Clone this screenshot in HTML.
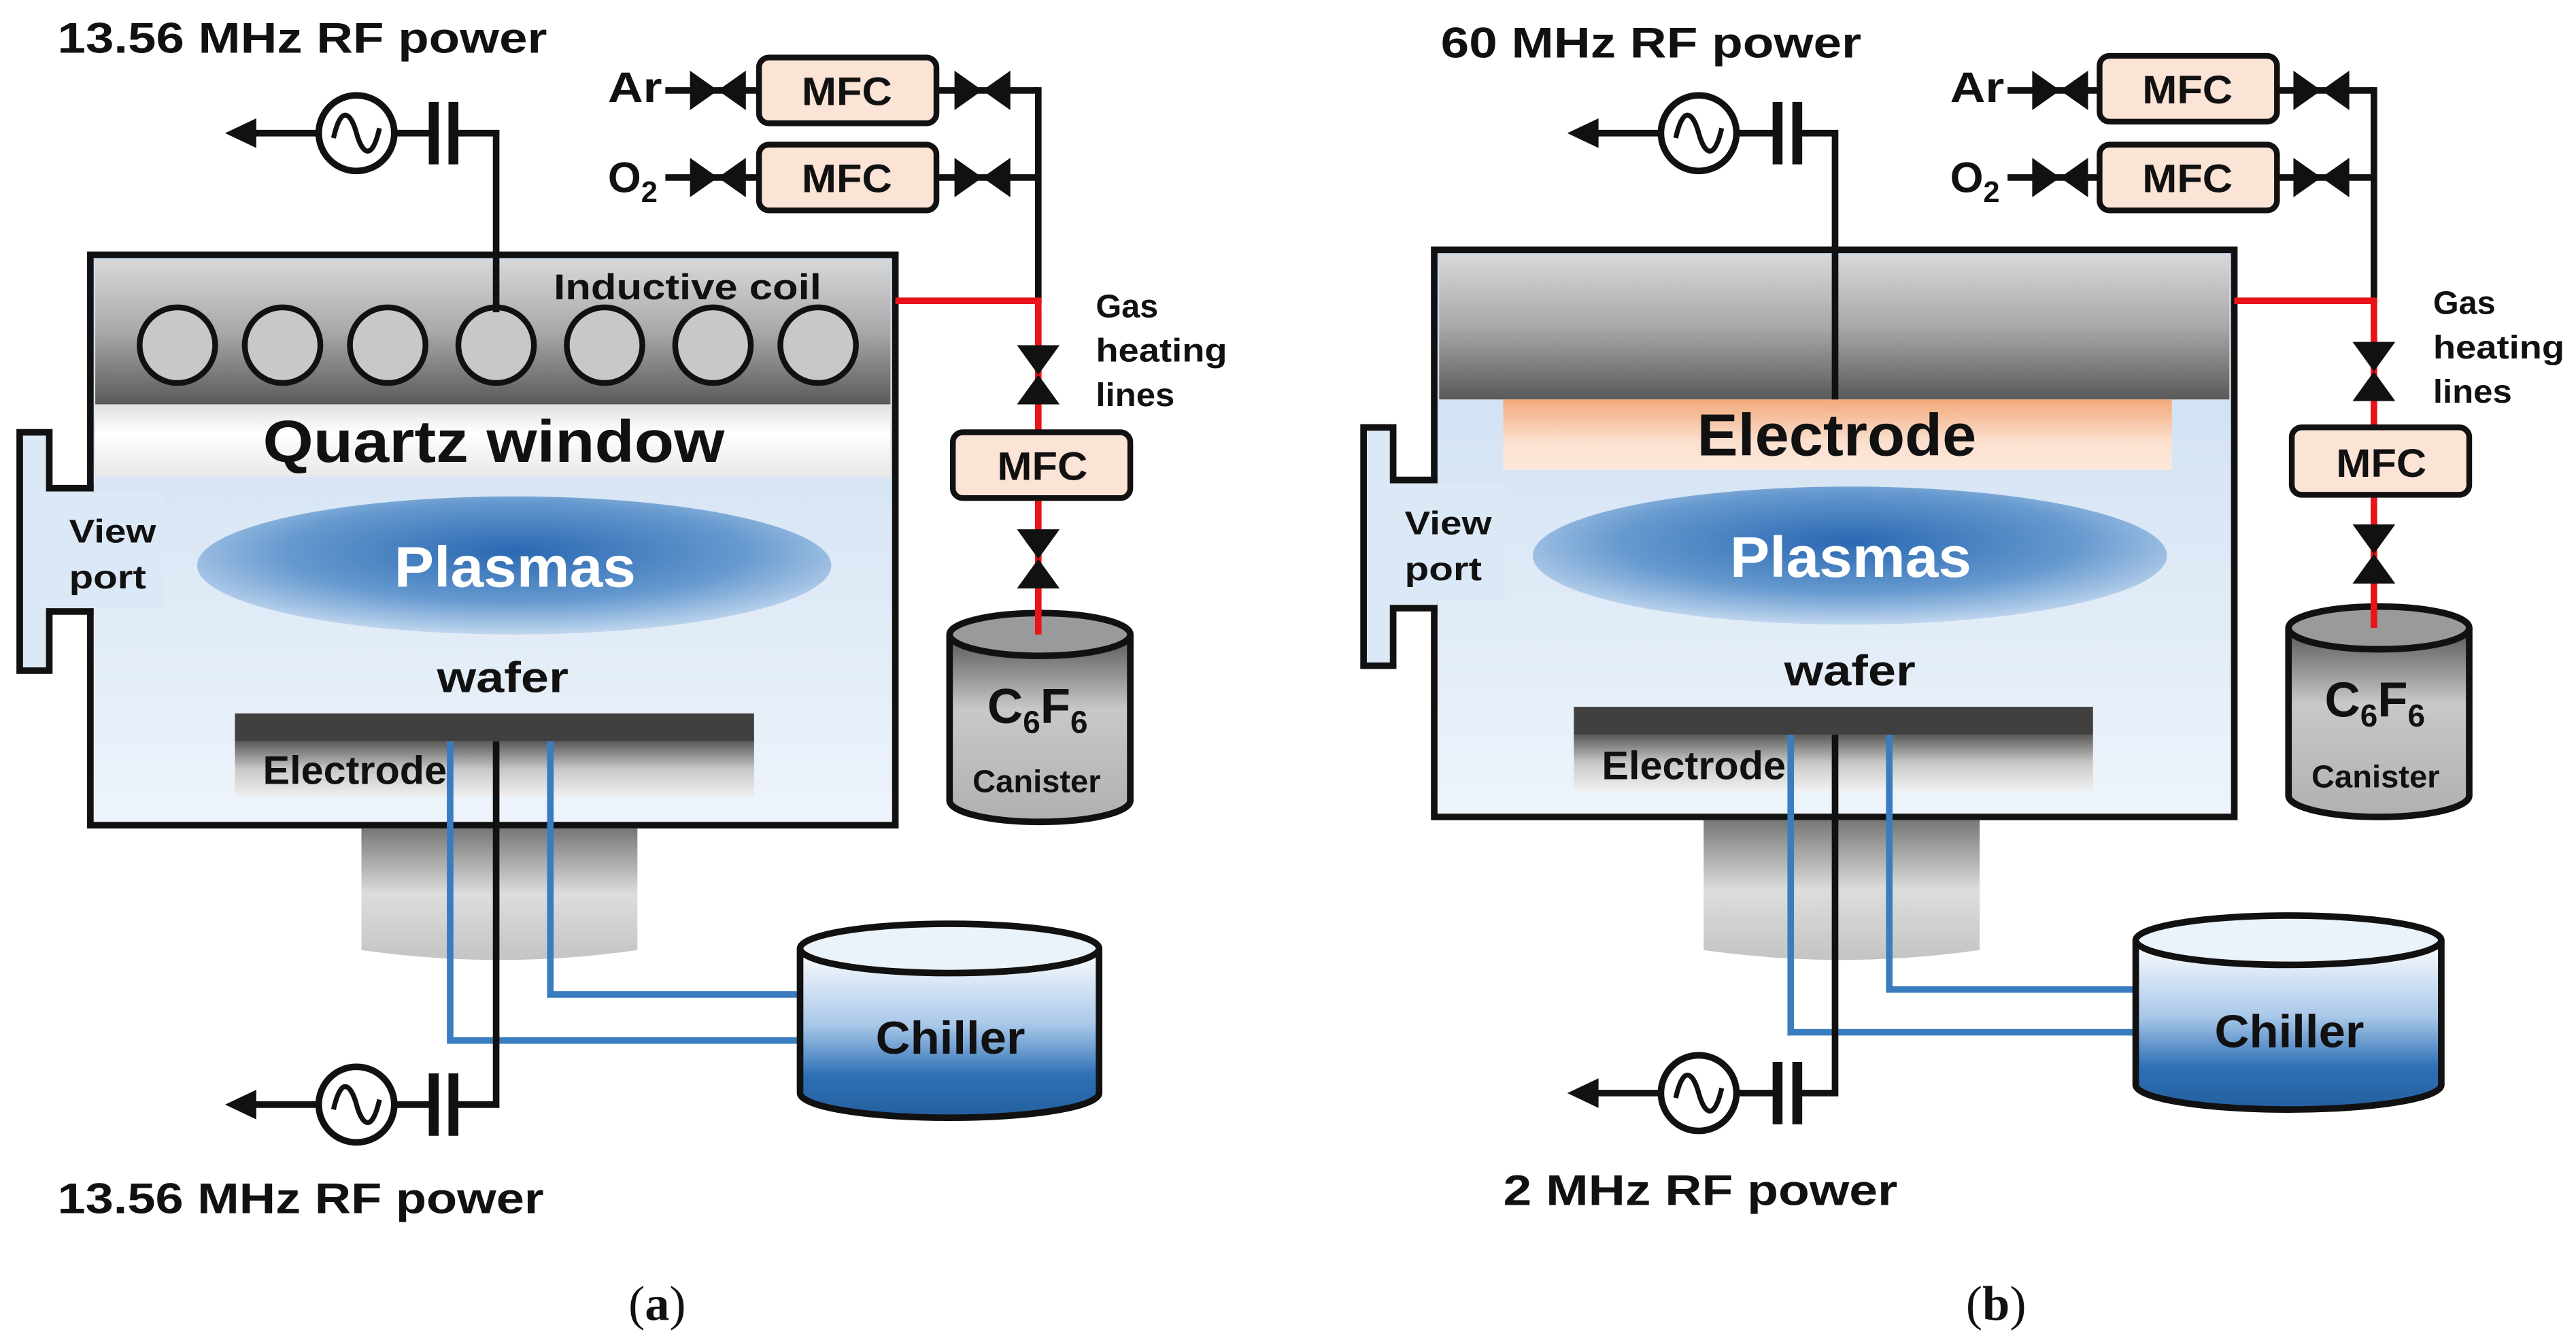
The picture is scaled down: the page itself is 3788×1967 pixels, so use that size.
<!DOCTYPE html>
<html><head><meta charset="utf-8"><style>
html,body{margin:0;padding:0;background:#fff;}
svg{display:block;}
text{font-family:"Liberation Sans",sans-serif;font-weight:bold;fill:#111;}
</style></head><body>
<svg width="3788" height="1967" viewBox="0 0 1568 814" preserveAspectRatio="none" xmlns="http://www.w3.org/2000/svg">
<defs>
<linearGradient id="topg" x1="0" y1="0" x2="0" y2="1"><stop offset="0" stop-color="#d8d8d8"/><stop offset="0.5" stop-color="#a8a8a8"/><stop offset="1" stop-color="#5a5a5a"/></linearGradient>
<linearGradient id="quartz" x1="0" y1="0" x2="0" y2="1"><stop offset="0" stop-color="#e0e0e0"/><stop offset="0.4" stop-color="#ffffff"/><stop offset="1" stop-color="#e8e8e8"/></linearGradient>
<linearGradient id="chamb" x1="0" y1="0" x2="0" y2="1"><stop offset="0" stop-color="#c9dcf0"/><stop offset="1" stop-color="#eef4fb"/></linearGradient>
<radialGradient id="plasma" cx="0.5" cy="0.4" r="0.6"><stop offset="0" stop-color="#2a68b2"/><stop offset="0.6" stop-color="#6599cf"/><stop offset="1" stop-color="#c0d6ee"/></radialGradient>
<linearGradient id="elec" x1="0" y1="0" x2="0" y2="1"><stop offset="0" stop-color="#5a5a5a"/><stop offset="0.5" stop-color="#c8c8c8"/><stop offset="1" stop-color="#f0f0f0"/></linearGradient>
<linearGradient id="ped" x1="0" y1="0" x2="0" y2="1"><stop offset="0" stop-color="#777"/><stop offset="0.5" stop-color="#ddd"/><stop offset="1" stop-color="#c4c4c4"/></linearGradient>
<linearGradient id="chill" x1="0" y1="0" x2="0" y2="1"><stop offset="0" stop-color="#ffffff"/><stop offset="0.45" stop-color="#a9c8e8"/><stop offset="0.75" stop-color="#2e70b6"/><stop offset="1" stop-color="#245f9e"/></linearGradient>
<linearGradient id="can" x1="0" y1="0" x2="0" y2="1"><stop offset="0" stop-color="#555"/><stop offset="0.4" stop-color="#c8c8c8"/><stop offset="1" stop-color="#b0b0b0"/></linearGradient>
<linearGradient id="orng" x1="0" y1="0" x2="0" y2="1"><stop offset="0" stop-color="#f2a97a"/><stop offset="0.6" stop-color="#fbe0cf"/><stop offset="1" stop-color="#fce8db"/></linearGradient>
</defs>

<!-- ============ PANEL A ============ -->
<text x="35" y="32" font-size="26" textLength="298" lengthAdjust="spacingAndGlyphs">13.56 MHz RF power</text>
<rect x="55" y="155" width="490" height="347" fill="url(#chamb)"/>
<rect x="58" y="158" width="484" height="88" fill="url(#topg)"/>
<rect x="58" y="246" width="484" height="44" fill="url(#quartz)"/>
<rect x="55" y="155" width="490" height="347" fill="none" stroke="#111" stroke-width="4"/>
<g fill="#c8c8c8" stroke="#111" stroke-width="3.5">
<circle cx="108" cy="210" r="23"/><circle cx="172" cy="210" r="23"/><circle cx="236" cy="210" r="23"/><circle cx="302" cy="210" r="23"/><circle cx="368" cy="210" r="23"/><circle cx="434" cy="210" r="23"/><circle cx="498" cy="210" r="23"/>
</g>
<text x="337" y="182" font-size="22" textLength="163" lengthAdjust="spacingAndGlyphs">Inductive coil</text>
<text x="160" y="281" font-size="36" textLength="281" lengthAdjust="spacingAndGlyphs">Quartz window</text>
<rect x="30" y="300" width="70" height="70" fill="#dbe8f5"/>
<path d="M57,297 H30 V263 H12 V408 H30 V372 H57" fill="#dbe8f5" stroke="#111" stroke-width="4"/>
<text x="42" y="330" font-size="20" textLength="53" lengthAdjust="spacingAndGlyphs">View</text>
<text x="42" y="358" font-size="20" textLength="47" lengthAdjust="spacingAndGlyphs">port</text>
<ellipse cx="313" cy="344" rx="193" ry="42" fill="url(#plasma)"/>
<text x="240" y="357" font-size="35" textLength="147" lengthAdjust="spacingAndGlyphs" style="fill:#fff">Plasmas</text>
<text x="266" y="421" font-size="26" textLength="80" lengthAdjust="spacingAndGlyphs">wafer</text>
<rect x="143" y="434" width="316" height="17" fill="#404040"/>
<rect x="143" y="451" width="316" height="34" fill="url(#elec)"/>
<text x="160" y="477" font-size="24" textLength="112" lengthAdjust="spacingAndGlyphs">Electrode</text>
<path d="M220,504 H388 V578 Q304,590 220,578 Z" fill="url(#ped)"/>
<polyline points="302,190 302,81 275,81" fill="none" stroke="#111" stroke-width="4"/>
<line x1="264" y1="62" x2="264" y2="100" stroke="#111" stroke-width="6"/>
<line x1="276" y1="62" x2="276" y2="100" stroke="#111" stroke-width="6"/>
<line x1="241" y1="81" x2="264" y2="81" stroke="#111" stroke-width="4"/>
<circle cx="217" cy="81" r="23" fill="#fff" stroke="#111" stroke-width="4"/>
<path d="M203,84 C208,62 214,70 217,81 C220,92 226,100 231,78" fill="none" stroke="#111" stroke-width="3"/>
<line x1="152" y1="81" x2="194" y2="81" stroke="#111" stroke-width="4"/>
<polygon points="137,81 156,72 156,90" fill="#111"/>
<polyline points="274,451 274,633 488,633" fill="none" stroke="#3a7cc0" stroke-width="4"/>
<polyline points="335,451 335,605 488,605" fill="none" stroke="#3a7cc0" stroke-width="4"/>
<polyline points="302,451 302,672 276,672" fill="none" stroke="#111" stroke-width="4"/>
<line x1="264" y1="653" x2="264" y2="691" stroke="#111" stroke-width="6"/>
<line x1="276" y1="653" x2="276" y2="691" stroke="#111" stroke-width="6"/>
<line x1="241" y1="672" x2="264" y2="672" stroke="#111" stroke-width="4"/>
<circle cx="217" cy="672" r="23" fill="#fff" stroke="#111" stroke-width="4"/>
<path d="M203,675 C208,653 214,661 217,672 C220,683 226,691 231,669" fill="none" stroke="#111" stroke-width="3"/>
<line x1="152" y1="672" x2="194" y2="672" stroke="#111" stroke-width="4"/>
<polygon points="137,672 156,663 156,681" fill="#111"/>
<path d="M487,577 V665 A91,15 0 0 0 669,665 V577" fill="url(#chill)" stroke="#111" stroke-width="4"/>
<ellipse cx="578" cy="577" rx="91" ry="15" fill="#eaf2fa" stroke="#111" stroke-width="4"/>
<text x="533" y="641" font-size="28" textLength="91" lengthAdjust="spacingAndGlyphs">Chiller</text>
<text x="35" y="738" font-size="26" textLength="296" lengthAdjust="spacingAndGlyphs">13.56 MHz RF power</text>
<text x="370" y="62" font-size="26" textLength="33" lengthAdjust="spacingAndGlyphs">Ar</text>
<text x="370" y="117" font-size="26">O<tspan font-size="18" dy="6">2</tspan></text>
<g stroke="#111" stroke-width="4" fill="none">
<line x1="405" y1="55" x2="462" y2="55"/><line x1="405" y1="108" x2="462" y2="108"/>
<line x1="570" y1="55" x2="632" y2="55"/><line x1="570" y1="108" x2="632" y2="108"/>
<line x1="632" y1="53" x2="632" y2="185"/>
</g>
<g fill="#111">
<polygon points="420,43 437,55 420,67"/><polygon points="454,43 437,55 454,67"/>
<polygon points="420,96 437,108 420,120"/><polygon points="454,96 437,108 454,120"/>
<polygon points="581,43 598,55 581,67"/><polygon points="615,43 598,55 615,67"/>
<polygon points="581,96 598,108 581,120"/><polygon points="615,96 598,108 615,120"/>
</g>
<g fill="#fbe3d6" stroke="#111" stroke-width="3.5">
<rect x="462" y="35" width="108" height="40" rx="6"/><rect x="462" y="88" width="108" height="40" rx="6"/>
</g>
<text x="488" y="64" font-size="24" textLength="55" lengthAdjust="spacingAndGlyphs">MFC</text>
<text x="488" y="117" font-size="24" textLength="55" lengthAdjust="spacingAndGlyphs">MFC</text>
<polyline points="545,183 632,183 632,382" fill="none" stroke="#e8141a" stroke-width="4"/>
<g fill="#111">
<polygon points="619,210 645,210 632,228"/><polygon points="619,246 645,246 632,228"/>
<polygon points="619,322 645,322 632,340"/><polygon points="619,358 645,358 632,340"/>
</g>
<rect x="580" y="263" width="108" height="40" rx="6" fill="#fbe3d6" stroke="#111" stroke-width="3.5"/>
<text x="607" y="292" font-size="24" textLength="55" lengthAdjust="spacingAndGlyphs">MFC</text>
<text x="667" y="193" font-size="20" textLength="38" lengthAdjust="spacingAndGlyphs">Gas</text>
<text x="667" y="220" font-size="20" textLength="80" lengthAdjust="spacingAndGlyphs">heating</text>
<text x="667" y="247" font-size="20" textLength="48" lengthAdjust="spacingAndGlyphs">lines</text>
<path d="M578,386 V487 A55,13 0 0 0 688,487 V386" fill="url(#can)" stroke="#111" stroke-width="4"/>
<ellipse cx="633" cy="386" rx="55" ry="13" fill="#9a9a9a" stroke="#111" stroke-width="4"/>
<line x1="632" y1="370" x2="632" y2="386" stroke="#e8141a" stroke-width="4"/>
<text x="601" y="440" font-size="30">C<tspan font-size="19" dy="6">6</tspan><tspan dy="-6">F</tspan><tspan font-size="19" dy="6">6</tspan></text>
<text x="592" y="482" font-size="19" textLength="78" lengthAdjust="spacingAndGlyphs">Canister</text>
<text x="400" y="803" font-size="30" text-anchor="middle" style="font-family:'Liberation Serif',serif;font-weight:normal">(<tspan font-weight="bold">a</tspan>)</text>

<!-- ============ PANEL B ============ -->
<text x="877" y="35" font-size="26" textLength="256" lengthAdjust="spacingAndGlyphs">60 MHz RF power</text>
<rect x="873" y="152" width="487" height="345" fill="url(#chamb)"/>
<rect x="876" y="155" width="481" height="88" fill="url(#topg)"/>
<rect x="915" y="243" width="407" height="43" fill="url(#orng)"/>
<rect x="873" y="152" width="487" height="345" fill="none" stroke="#111" stroke-width="4"/>
<text x="1033" y="277" font-size="36" textLength="170" lengthAdjust="spacingAndGlyphs">Electrode</text>
<rect x="848" y="295" width="68" height="70" fill="#dbe8f5"/>
<path d="M875,292 H848 V260 H830 V405 H848 V370 H875" fill="#dbe8f5" stroke="#111" stroke-width="4"/>
<text x="855" y="325" font-size="20" textLength="53" lengthAdjust="spacingAndGlyphs">View</text>
<text x="855" y="353" font-size="20" textLength="47" lengthAdjust="spacingAndGlyphs">port</text>
<ellipse cx="1126" cy="338" rx="193" ry="42" fill="url(#plasma)"/>
<text x="1053" y="351" font-size="35" textLength="147" lengthAdjust="spacingAndGlyphs" style="fill:#fff">Plasmas</text>
<text x="1086" y="417" font-size="26" textLength="80" lengthAdjust="spacingAndGlyphs">wafer</text>
<rect x="958" y="430" width="316" height="17" fill="#404040"/>
<rect x="958" y="447" width="316" height="34" fill="url(#elec)"/>
<text x="975" y="474" font-size="24" textLength="112" lengthAdjust="spacingAndGlyphs">Electrode</text>
<path d="M1037,499 H1205 V578 Q1121,590 1037,578 Z" fill="url(#ped)"/>
<polyline points="1117,243 1117,81 1093,81" fill="none" stroke="#111" stroke-width="4"/>
<line x1="1082" y1="62" x2="1082" y2="100" stroke="#111" stroke-width="6"/>
<line x1="1094" y1="62" x2="1094" y2="100" stroke="#111" stroke-width="6"/>
<line x1="1058" y1="81" x2="1082" y2="81" stroke="#111" stroke-width="4"/>
<circle cx="1034" cy="81" r="23" fill="#fff" stroke="#111" stroke-width="4"/>
<path d="M1020,84 C1025,62 1031,70 1034,81 C1037,92 1043,100 1048,78" fill="none" stroke="#111" stroke-width="3"/>
<line x1="969" y1="81" x2="1011" y2="81" stroke="#111" stroke-width="4"/>
<polygon points="954,81 973,72 973,90" fill="#111"/>
<polyline points="1090,447 1090,628 1301,628" fill="none" stroke="#3a7cc0" stroke-width="4"/>
<polyline points="1150,447 1150,602 1301,602" fill="none" stroke="#3a7cc0" stroke-width="4"/>
<polyline points="1117,447 1117,665 1094,665" fill="none" stroke="#111" stroke-width="4"/>
<line x1="1082" y1="646" x2="1082" y2="684" stroke="#111" stroke-width="6"/>
<line x1="1094" y1="646" x2="1094" y2="684" stroke="#111" stroke-width="6"/>
<line x1="1058" y1="665" x2="1082" y2="665" stroke="#111" stroke-width="4"/>
<circle cx="1034" cy="665" r="23" fill="#fff" stroke="#111" stroke-width="4"/>
<path d="M1020,668 C1025,646 1031,654 1034,665 C1037,676 1043,684 1048,662" fill="none" stroke="#111" stroke-width="3"/>
<line x1="969" y1="665" x2="1011" y2="665" stroke="#111" stroke-width="4"/>
<polygon points="954,665 973,656 973,674" fill="#111"/>
<path d="M1300,572 V660 A93,15 0 0 0 1486,660 V572" fill="url(#chill)" stroke="#111" stroke-width="4"/>
<ellipse cx="1393" cy="572" rx="93" ry="15" fill="#eaf2fa" stroke="#111" stroke-width="4"/>
<text x="1348" y="637" font-size="28" textLength="91" lengthAdjust="spacingAndGlyphs">Chiller</text>
<text x="915" y="733" font-size="26" textLength="240" lengthAdjust="spacingAndGlyphs">2 MHz RF power</text>
<text x="1187" y="62" font-size="26" textLength="33" lengthAdjust="spacingAndGlyphs">Ar</text>
<text x="1187" y="117" font-size="26">O<tspan font-size="18" dy="6">2</tspan></text>
<g stroke="#111" stroke-width="4" fill="none">
<line x1="1222" y1="55" x2="1279" y2="55"/><line x1="1222" y1="108" x2="1279" y2="108"/>
<line x1="1386" y1="55" x2="1445" y2="55"/><line x1="1386" y1="108" x2="1445" y2="108"/>
<line x1="1445" y1="53" x2="1445" y2="185"/>
</g>
<g fill="#111">
<polygon points="1237,43 1254,55 1237,67"/><polygon points="1271,43 1254,55 1271,67"/>
<polygon points="1237,96 1254,108 1237,120"/><polygon points="1271,96 1254,108 1271,120"/>
<polygon points="1396,43 1413,55 1396,67"/><polygon points="1430,43 1413,55 1430,67"/>
<polygon points="1396,96 1413,108 1396,120"/><polygon points="1430,96 1413,108 1430,120"/>
</g>
<g fill="#fbe3d6" stroke="#111" stroke-width="3.5">
<rect x="1278" y="34" width="108" height="40" rx="6"/><rect x="1278" y="88" width="108" height="40" rx="6"/>
</g>
<text x="1304" y="63" font-size="24" textLength="55" lengthAdjust="spacingAndGlyphs">MFC</text>
<text x="1304" y="117" font-size="24" textLength="55" lengthAdjust="spacingAndGlyphs">MFC</text>
<polyline points="1360,183 1445,183 1445,378" fill="none" stroke="#e8141a" stroke-width="4"/>
<g fill="#111">
<polygon points="1432,208 1458,208 1445,226"/><polygon points="1432,244 1458,244 1445,226"/>
<polygon points="1432,319 1458,319 1445,337"/><polygon points="1432,355 1458,355 1445,337"/>
</g>
<rect x="1395" y="260" width="108" height="41" rx="6" fill="#fbe3d6" stroke="#111" stroke-width="3.5"/>
<text x="1422" y="290" font-size="24" textLength="55" lengthAdjust="spacingAndGlyphs">MFC</text>
<text x="1481" y="191" font-size="20" textLength="38" lengthAdjust="spacingAndGlyphs">Gas</text>
<text x="1481" y="218" font-size="20" textLength="80" lengthAdjust="spacingAndGlyphs">heating</text>
<text x="1481" y="245" font-size="20" textLength="48" lengthAdjust="spacingAndGlyphs">lines</text>
<path d="M1393,382 V484 A55,13 0 0 0 1503,484 V382" fill="url(#can)" stroke="#111" stroke-width="4"/>
<ellipse cx="1448" cy="382" rx="55" ry="13" fill="#9a9a9a" stroke="#111" stroke-width="4"/>
<line x1="1445" y1="366" x2="1445" y2="382" stroke="#e8141a" stroke-width="4"/>
<text x="1415" y="436" font-size="30">C<tspan font-size="19" dy="6">6</tspan><tspan dy="-6">F</tspan><tspan font-size="19" dy="6">6</tspan></text>
<text x="1407" y="479" font-size="19" textLength="78" lengthAdjust="spacingAndGlyphs">Canister</text>
<text x="1215" y="803" font-size="30" text-anchor="middle" style="font-family:'Liberation Serif',serif;font-weight:normal">(<tspan font-weight="bold">b</tspan>)</text>
</svg>
</body></html>
